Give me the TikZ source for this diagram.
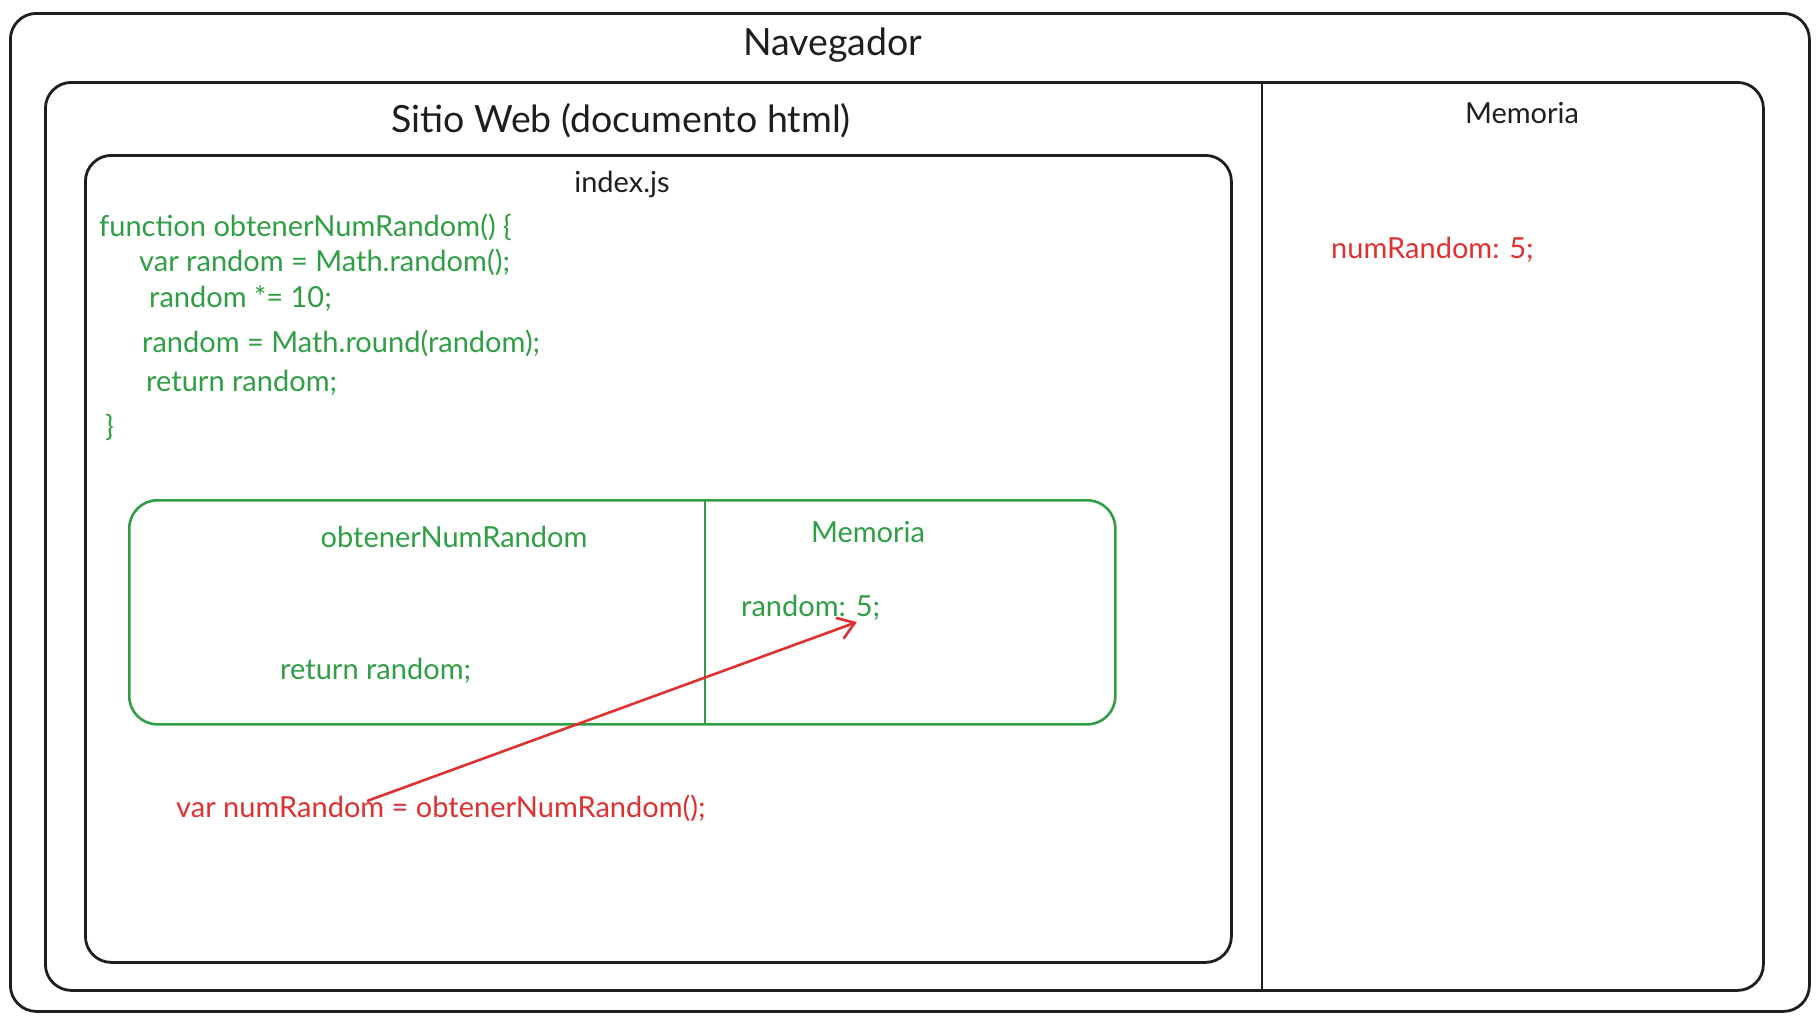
\documentclass[tikz,border=0pt]{standalone}
\usepackage{fontspec}
\setmainfont{Lato}
\usetikzlibrary{arrows.meta}
\definecolor{ink}{HTML}{1E1E1E}
\definecolor{exgreen}{HTML}{2F9E44}
\definecolor{exred}{HTML}{E03131}
\tikzset{
  frame/.style={draw=ink, line width=2.8pt, rounded corners=26pt, inner sep=0pt},
  gframe/.style={draw=exgreen, line width=2.6pt, rounded corners=28pt, inner sep=0pt},
  title/.style={text=ink, font=\fontsize{37.5}{42}\selectfont, inner sep=0pt},
  label/.style={text=ink, font=\fontsize{29}{33}\selectfont, inner sep=0pt},
  gcode/.style={text=exgreen, font=\fontsize{29}{33}\selectfont, inner sep=0pt, anchor=west},
  rcode/.style={text=exred, font=\fontsize{29}{33}\selectfont, inner sep=0pt, anchor=west},
  redarrow/.style={draw=exred, line width=2.6pt, -{Straight Barb[length=16pt,width=22pt,line width=2.6pt]}},
}
\begin{document}
\begin{tikzpicture}[x=1pt,y=-1pt]
\useasboundingbox (0,0) rectangle (1820,1020);
% boxes
\node[frame, anchor=north west, minimum width=1799pt, minimum height=998pt] (nav) at (9,12) {};
\node[frame, anchor=north west, minimum width=1718pt, minimum height=908pt] (site) at (44,81) {};
\node[frame, anchor=north west, minimum width=1146pt, minimum height=807pt] (idx) at (84,154) {};
\node[gframe, anchor=north west, minimum width=986pt, minimum height=224pt] (fn) at (128,499) {};
\coordinate (sdivT) at (1262,81);
\coordinate (sdivB) at (1262,989);
\draw[draw=ink, line width=2.6pt] (sdivT) -- (sdivB);
\coordinate (gdivT) at (705,499);
\coordinate (gdivB) at (705,723);
\draw[draw=exgreen, line width=2.4pt] (gdivT) -- (gdivB);
% titles
\node[title] (tnav) at (833,45) {Navegador};
\node[title] (tsite) at (621,121) {Sitio Web (documento html)};
\node[label] (tmem) at (1522,113) {Memoria};
\node[label] (tidx) at (622,184) {index.js};
% code
\node[gcode] (c1) at (99,227) {function obtenerNumRandom() \{};
\node[gcode] (c2) at (139,262) {var random = Math.random();};
\node[gcode] (c3) at (149,299) {random *= 10;};
\node[gcode] (c4) at (142,343) {random = Math.round(random);};
\node[gcode] (c5) at (146,383) {return random;};
\node[gcode] (c6) at (105,427) {\}};
% function frame
\node[label, text=exgreen] (tfn) at (454,537) {obtenerNumRandom};
\node[label, text=exgreen] (tgmem) at (868,532) {Memoria};
\node[gcode] (rv) at (741,608) {random: 5;};
\node[gcode] (rr) at (280,671) {return random;};
% red
\node[rcode] (call) at (176,808) {var numRandom = obtenerNumRandom();};
\node[rcode] (nr) at (1331,250) {numRandom: 5;};
\coordinate (arrS) at (367,801);
\coordinate (arrE) at (857,622);
\draw[redarrow] (arrS) -- (arrE);
\end{tikzpicture}
\end{document}
